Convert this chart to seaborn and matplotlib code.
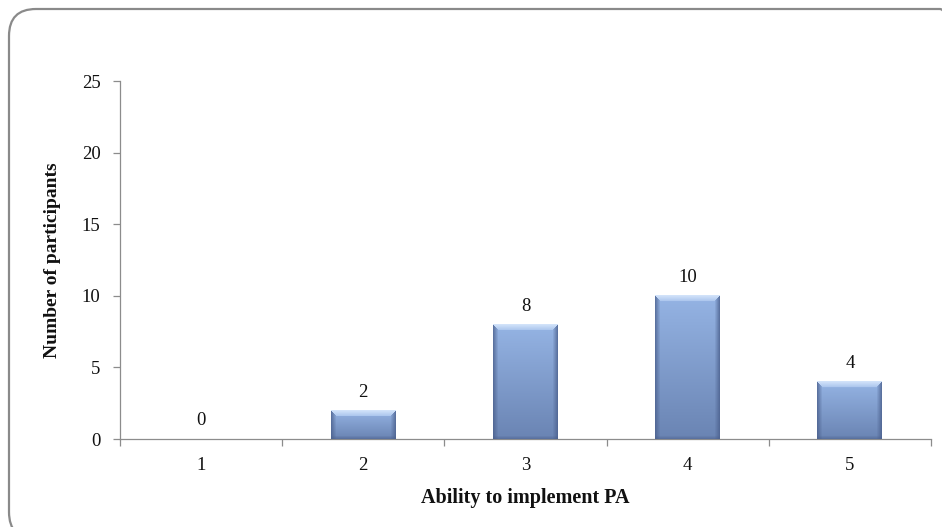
import numpy as np
import pandas as pd
import matplotlib
matplotlib.use("Agg")
import matplotlib.pyplot as plt
import seaborn as sns
from matplotlib.colors import to_rgb
from matplotlib.patches import FancyBboxPatch
from matplotlib.transforms import IdentityTransform

# Survey responses: rating of ability to implement PA
ratings = ["1", "2", "3", "4", "5"]
participants = [0, 2, 8, 10, 4]
y_ticks = [0, 5, 10, 15, 20, 25]

sns.set_theme(style="white")
plt.rcParams["font.family"] = ["Liberation Serif", "DejaVu Serif"]

W, H, DPI = 942, 527, 100
fig = plt.figure(figsize=(W / DPI, H / DPI), dpi=DPI)
fig.patch.set_facecolor("white")

# rounded chart-area border
frame = FancyBboxPatch((9, -12), 958, 530, boxstyle="round,pad=0,rounding_size=27",
                       transform=IdentityTransform(), facecolor="none",
                       edgecolor="#8a8a8a", linewidth=1.6, zorder=-1)
fig.patches.append(frame)

ax = fig.add_axes([120 / W, 1 - 439 / H, 811 / W, 358 / H])
ax.set_facecolor("none")

df = pd.DataFrame({"rating": ratings, "count": participants})
sns.barplot(data=df, x="rating", y="count", color="#7f9dd0", saturation=1,
            width=0.4, ax=ax, edgecolor="none", zorder=2)

ax.set_xlim(-0.5, len(ratings) - 0.5)
ax.set_ylim(0, 25)
ax.set_yticks(y_ticks)


def bevel_image(wpx, hpx):
    """RGB image of a bevelled, shaded bar of the given pixel size."""
    w = max(int(round(wpx)), 2)
    h = max(int(round(hpx)), 2)
    r = np.arange(h)[:, None] * np.ones((1, w))
    c = np.ones((h, 1)) * np.arange(w)[None, :]
    t = (r / (h - 1))[..., None]
    top = np.array(to_rgb("#95b4e4"))
    bot = np.array(to_rgb("#6a84b3"))
    img = top * (1 - t) + bot * t
    # darker side strips
    edge = np.minimum(c, w - 1 - c)
    side = (np.clip(1 - edge / 5.0, 0, 1) * 0.75)[..., None]
    dark = np.array(to_rgb("#4a5f8c"))
    img = img * (1 - side) + dark * side
    # light top bevel (trapezoid)
    bev = 6
    in_bev = (r < bev) & (c >= r) & (c <= w - 1 - r)
    lt = (r / bev)[..., None]
    light = np.array(to_rgb("#d2e3fa")) * (1 - lt) + np.array(to_rgb("#a8c3ec")) * lt
    img = np.where(in_bev[..., None], light, img)
    # darker bottom edge
    bottom = np.clip(1 - (h - 1 - r) / 3.0, 0, 1)[..., None] * 0.5
    img = img * (1 - bottom) + dark * bottom
    return img


for patch in ax.patches:
    x0, y0 = patch.get_x(), patch.get_y()
    bw, bh = patch.get_width(), patch.get_height()
    if bh <= 0:
        continue
    p0 = ax.transData.transform((x0, y0))
    p1 = ax.transData.transform((x0 + bw, y0 + bh))
    img = bevel_image(p1[0] - p0[0], p1[1] - p0[1])
    ax.imshow(img, extent=(x0, x0 + bw, y0, y0 + bh), origin="upper",
              aspect="auto", interpolation="bilinear", zorder=3)

ax.set_xlim(-0.5, len(ratings) - 0.5)
ax.set_ylim(0, 25)

# value labels above each bar
for i, v in enumerate(participants):
    ax.annotate(str(v), (i, v), xytext=(0, 7), textcoords="offset points",
                ha="center", va="bottom", fontsize=13.5, color="#111111")

# axes styling
for s in ["top", "right"]:
    ax.spines[s].set_visible(False)
for s in ["left", "bottom"]:
    ax.spines[s].set_color("#8c8c8c")
    ax.spines[s].set_linewidth(0.9)

ax.set_xticks(np.arange(-0.5, len(ratings)), minor=True)
ax.tick_params(axis="x", which="minor", bottom=True, length=5, width=0.9,
               color="#8c8c8c", direction="out")
ax.tick_params(axis="x", which="major", bottom=True, length=0, pad=13,
               labelsize=13.5, labelcolor="#111111")
ax.tick_params(axis="y", left=True, length=5, width=0.9, color="#8c8c8c",
               direction="out", pad=9, labelsize=13.5, labelcolor="#111111")

ax.set_xlabel("")
ax.set_ylabel("")
fig.text(53 / W, 1 - 260 / H, "Number of participants", rotation=90,
         ha="center", va="center", fontsize=14, fontweight="bold", color="#111111")
fig.text(525 / W, 1 - 498 / H, "Ability to implement PA", ha="center",
         va="center", fontsize=14.5, fontweight="bold", color="#111111")

fig.savefig("out.png", dpi=DPI, facecolor="white")
